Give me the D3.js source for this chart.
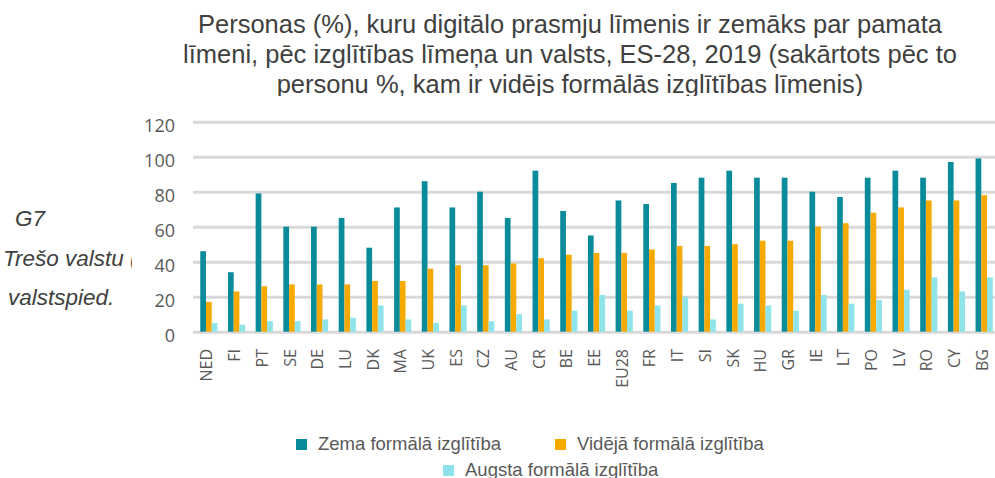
<!DOCTYPE html>
<html>
<head>
<meta charset="utf-8">
<script src="https://cdn.jsdelivr.net/npm/d3@7"></script>
<style>
  body { margin: 0; background: #fff; }
  svg { display: block; }
  .axis-y text { font-family: "Open Sans", sans-serif; font-size: 18px; fill: #595959; }
  .axis-x text { font-family: "Open Sans", sans-serif; font-size: 16px; fill: #595959; }
</style>
</head>
<body>
<div id="plot"></div>
<script>
// data
var countries = ["NED","FI","PT","SE","DE","LU","DK","MA","UK","ES","CZ","AU","CR","BE","EE","EU28","FR","IT","SI","SK","HU","GR","IE","LT","PO","LV","RO","CY","BG"];
var lowEdu  = [46,34,79,60,60,65,48,71,86,71,80,65,92,69,55,75,73,85,88,92,88,88,80,77,88,92,88,97,99];
var midEdu  = [17,23,26,27,27,27,29,29,36,38,38,39,42,44,45,45,47,49,49,50,52,52,60,62,68,71,75,75,78];
var highEdu = [5,4,6,6,7,8,15,7,5,15,6,10,7,12,21,12,15,20,7,16,15,12,21,16,18,24,31,23,31];
var seriesNames = ["Zema formālā izglītība","Vidējā formālā izglītība","Augsta formālā izglītība"];
var yTicks = [0,20,40,60,80,100,120];
var titleLines = [
  "Personas (%), kuru digitālo prasmju līmenis ir zemāks par pamata",
  "līmeni, pēc izglītības līmeņa un valsts, ES-28, 2019 (sakārtots pēc to",
  "personu %, kam ir vidējs formālās izglītības līmenis)"
];
var sideLines = ["G7", "Trešo valstu (", "valstspied."];

var colors = ["#0a8b9a", "#f6aa00", "#8ee4ea"];
var seriesData = [lowEdu, midEdu, highEdu];

var W = 995, H = 478;
var svg = d3.select('#plot').append('svg').attr('width', W).attr('height', H);

// text on the left, partly hidden behind the chart area
var side = svg.append('g').attr('class', 'side');
var sideX = [15, 3, 8], sideY = [226, 266, 305];
side.selectAll('text').data(sideLines).enter().append('text')
  .attr('x', function(d, i) { return sideX[i]; })
  .attr('y', function(d, i) { return sideY[i]; })
  .style('font-family', 'Liberation Sans, Arial, sans-serif')
  .style('font-style', 'italic')
  .style('font-size', '22.5px')
  .style('fill', '#404040')
  .text(function(d) { return d; });

// title
var title = svg.append('g').attr('class', 'title');
title.selectAll('text').data(titleLines).enter().append('text')
  .attr('x', 570)
  .attr('y', function(d, i) { return 33 + i * 30; })
  .attr('text-anchor', 'middle')
  .style('font-family', 'Liberation Sans, Arial, sans-serif')
  .style('font-size', '25.5px')
  .style('fill', '#404040')
  .text(function(d) { return d; });

// white chart area covering what is behind
svg.append('rect').attr('x', 132).attr('y', 96).attr('width', W - 132).attr('height', H - 96).attr('fill', '#fff');

// scales
var x0 = d3.scaleBand().domain(countries).range([195, 998]).paddingInner(0.38).paddingOuter(0.19);
var x1 = d3.scaleBand().domain([0, 1, 2]).range([0, x0.bandwidth()]);
var y = d3.scaleLinear().domain([0, 120]).range([331.7, 121.7]);

// y axis with gridlines
var axisY = d3.axisLeft(y).tickValues(yTicks).tickSizeInner(-(996 - 193)).tickSizeOuter(0).tickPadding(18);
var gy = svg.append('g').attr('class', 'axis axis-y').attr('transform', 'translate(193,0)').call(axisY);
gy.select('.domain').remove();
gy.selectAll('line').attr('stroke', '#d9d9d9').attr('stroke-width', 3);
gy.selectAll('text').attr('dy', '0.55em');

// bars
var groups = svg.append('g').attr('class', 'bars')
  .selectAll('g').data(countries).enter().append('g')
  .attr('transform', function(d) { return 'translate(' + x0(d) + ',0)'; });

groups.selectAll('rect')
  .data(function(d, i) { return seriesData.map(function(s, k) { return {k: k, v: s[i]}; }); })
  .enter().append('rect')
  .attr('x', function(d) { return x1(d.k); })
  .attr('y', function(d) { return y(d.v); })
  .attr('width', x1.bandwidth())
  .attr('height', function(d) { return y(0) - y(d.v); })
  .style('fill', function(d) { return colors[d.k]; });

// x axis labels (rotated)
var axisX = d3.axisBottom(x0).tickSize(0).tickPadding(0);
var gx = svg.append('g').attr('class', 'axis axis-x').attr('transform', 'translate(-2,333)').call(axisX);
gx.select('.domain').remove();
gx.selectAll('text')
  .attr('transform', 'rotate(-90)')
  .attr('text-anchor', 'end')
  .attr('x', -16)
  .attr('y', 0)
  .attr('dy', '0.35em');

// legend
var legX = [296, 555, 443], legY = [450, 450, 476];
var legend = svg.append('g').attr('class', 'legend')
  .selectAll('g').data(seriesNames).enter().append('g')
  .attr('transform', function(d, i) { return 'translate(' + legX[i] + ',' + legY[i] + ')'; });
legend.append('rect').attr('x', 0).attr('y', -11).attr('width', 11).attr('height', 11)
  .style('fill', function(d, i) { return colors[i]; });
legend.append('text').attr('x', 22).attr('y', 0)
  .style('font-family', 'Liberation Sans, Arial, sans-serif')
  .style('font-size', '18.5px')
  .style('fill', '#595959')
  .text(function(d) { return d; });
</script>
</body>
</html>
